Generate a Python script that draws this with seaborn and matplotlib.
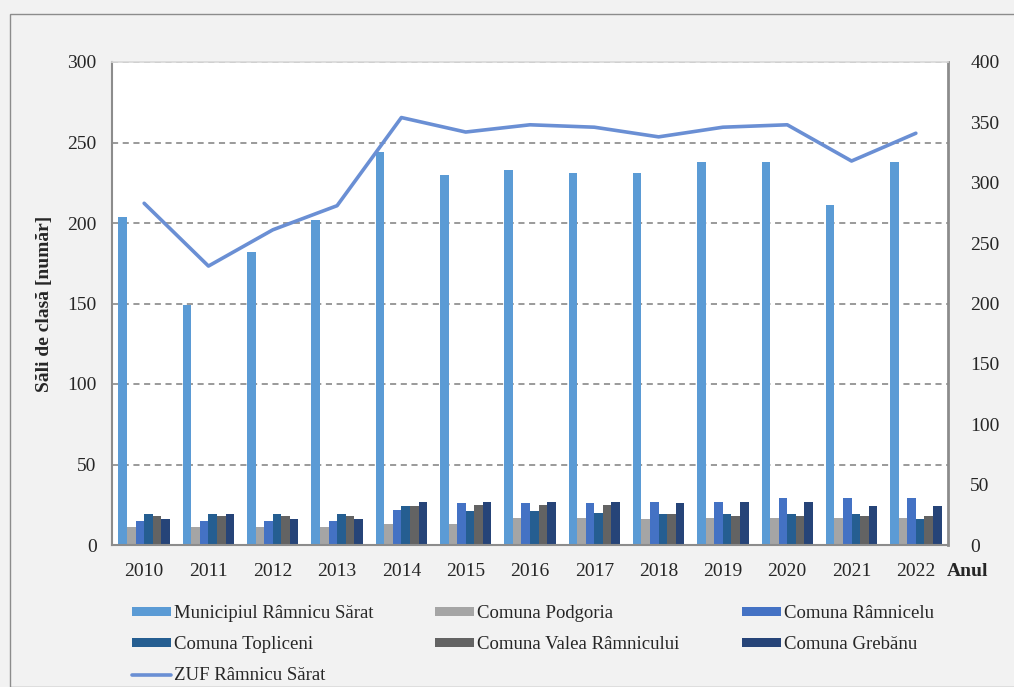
import numpy as np
import pandas as pd
import matplotlib
matplotlib.use("Agg")
import matplotlib.pyplot as plt
from matplotlib.patches import Rectangle
from matplotlib.lines import Line2D
import seaborn as sns

years = ["2010", "2011", "2012", "2013", "2014", "2015", "2016",
         "2017", "2018", "2019", "2020", "2021", "2022"]

municipiul = [204, 149, 182, 202, 244, 230, 233, 231, 231, 238, 238, 211, 238]
podgoria = [11, 11, 11, 11, 13, 13, 17, 17, 16, 17, 17, 17, 17]
ramnicelu = [15, 15, 15, 15, 22, 26, 26, 26, 27, 27, 29, 29, 29]
topliceni = [19, 19, 19, 19, 24, 21, 21, 20, 19, 19, 19, 19, 16]
valea = [18, 18, 18, 18, 24, 25, 25, 25, 19, 18, 18, 18, 18]
grebanu = [16, 19, 16, 16, 27, 27, 27, 27, 26, 27, 27, 24, 24]
zuf = [283, 231, 261, 281, 354, 342, 348, 346, 338, 346, 348, 318, 341]

series_names = ["Municipiul Râmnicu Sărat", "Comuna Podgoria", "Comuna Râmnicelu",
                "Comuna Topliceni", "Comuna Valea Râmnicului", "Comuna Grebănu"]
series_vals = [municipiul, podgoria, ramnicelu, topliceni, valea, grebanu]
colors = ["#5b9bd5", "#a5a5a5", "#4472c4", "#255e91", "#636363", "#264478"]
line_color = "#6a8fd4"
line_name = "ZUF Râmnicu Sărat"

rows = []
for name, vals in zip(series_names, series_vals):
    for y, v in zip(years, vals):
        rows.append({"An": y, "Serie": name, "Valoare": v})
df = pd.DataFrame(rows)

sns.set_theme(style="white")
plt.rcParams["font.family"] = ["Liberation Serif", "DejaVu Serif"]

fig = plt.figure(figsize=(10.14, 6.87), dpi=100, facecolor="#f2f2f2")
fig.patches.append(Rectangle((10 / 1014, 0), 1.0, 1 - 14 / 687, transform=fig.transFigure,
                             facecolor="none", edgecolor="#8c8c8c", linewidth=1.0))
ax = fig.add_axes([112 / 1014, 1 - 545 / 687, (948 - 112) / 1014, (545 - 62) / 687])
ax.set_facecolor("white")

sns.barplot(data=df, x="An", y="Valoare", hue="Serie", hue_order=series_names,
            palette=colors, width=0.8, gap=0, ax=ax, legend=False, saturation=1,
            edgecolor="none")

ax.set_ylim(0, 300)
ax.set_yticks(range(0, 301, 50))
ax.set_xlim(-0.5, len(years) - 0.5)
ax.yaxis.grid(True, linestyle=(0, (4, 3)), color="#7f7f7f", linewidth=1.1)
ax.set_axisbelow(True)
ax.set_xlabel("")
ax.set_ylabel("Săli de clasă [număr]", fontsize=14, fontweight="bold", labelpad=10)
ax.tick_params(axis="y", labelsize=14, length=0, pad=11)
ax.tick_params(axis="x", labelsize=14, length=0, pad=13)
for s in ["left", "bottom"]:
    ax.spines[s].set_color("#8c8c8c")
    ax.spines[s].set_linewidth(1.5)
ax.spines["top"].set_color("#d9d9d9")
ax.spines["right"].set_color("#8c8c8c")
ax.spines["right"].set_linewidth(2)

ax2 = ax.twinx()
sns.lineplot(x=np.arange(len(years)), y=zuf, ax=ax2, color=line_color, linewidth=2.6)
ax2.set_ylim(0, 400)
ax2.set_yticks(range(0, 401, 50))
ax2.tick_params(axis="y", labelsize=14, length=0, pad=16)
for s in ax2.spines.values():
    s.set_visible(False)
ax2.set_xlim(-0.5, len(years) - 0.5)

fig.text(968 / 1014, 1 - 572 / 687, "Anul", fontsize=14, fontweight="bold",
         ha="center", va="center")

# legend: three separate columns to match the reference spacing
handles = [Rectangle((0, 0), 1, 1, facecolor=c, edgecolor="none") for c in colors]
line_handle = Line2D([0], [0], color=line_color, linewidth=2.6)
columns = [
    ([handles[0], handles[3], line_handle], [series_names[0], series_names[3], line_name], 117),
    ([handles[1], handles[4]], [series_names[1], series_names[4]], 420),
    ([handles[2], handles[5]], [series_names[2], series_names[5]], 727),
]
for hs, ls, x0 in columns:
    fig.legend(hs, ls, ncol=1, loc="upper left",
               bbox_to_anchor=(x0 / 1014, 1 - 590 / 687),
               frameon=False, fontsize=13.5, handlelength=2.1, handleheight=0.35,
               handletextpad=0.15, labelspacing=0.75, borderpad=0.3)

fig.savefig("out.png", dpi=100, facecolor=fig.get_facecolor())
